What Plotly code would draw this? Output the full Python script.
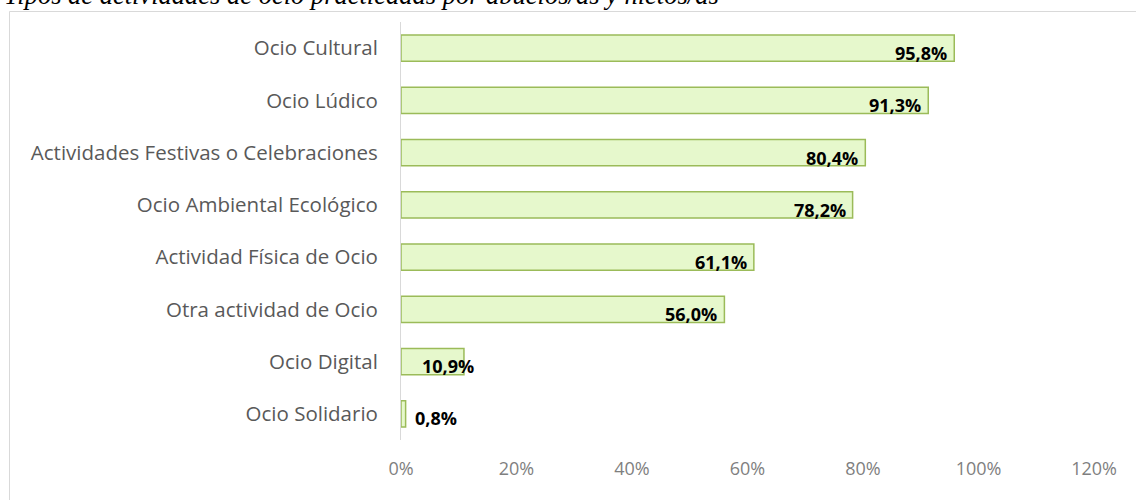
import plotly.graph_objects as go

categories = ["Ocio Cultural", "Ocio Lúdico", "Actividades Festivas o Celebraciones",
              "Ocio Ambiental Ecológico", "Actividad Física de Ocio", "Otra actividad de Ocio",
              "Ocio Digital", "Ocio Solidario"]
values = [0.958, 0.913, 0.804, 0.782, 0.611, 0.560, 0.109, 0.008]
tick_vals = [0, 0.2, 0.4, 0.6, 0.8, 1.0, 1.2]
tick_text = ["0%", "20%", "40%", "60%", "80%", "100%", "120%"]
title = "Tipos de actividades de ocio practicadas por abuelos/as y nietos/as"

W, H = 1136, 500
ML, MR, MT, MB = 401, 42, 22, 60
PW, PH = W - ML - MR, H - MT - MB

def px_x(p):
    return (p - ML) / PW

def px_y(p):
    return 1 - (p - MT) / PH

fig = go.Figure(go.Bar(
    x=values, y=categories, orientation="h",
    marker=dict(color="#e6f8cc", line=dict(color="#9bbb59", width=1.5)),
    hoverinfo="skip",
))

label_font = dict(family="Open Sans", size=18, color="#000000")
for c, v in zip(categories, values):
    lab = f"{v*100:.1f}%".replace(".", ",")
    if v > 0.3:
        fig.add_annotation(x=v, y=c, xref="x", yref="y", text=f"<b>{lab}</b>",
                           showarrow=False, xanchor="right", xshift=-5, yshift=-5,
                           font=label_font)
    else:
        shift = 19 if v > 0.05 else 12
        fig.add_annotation(x=0, y=c, xref="x", yref="y", text=f"<b>{lab}</b>",
                           showarrow=False, xanchor="left", xshift=shift, yshift=-4,
                           font=label_font)

fig.add_annotation(x=px_x(2), y=1, xref="paper", yref="paper", text=f"<i>{title}</i>",
                   showarrow=False, xanchor="left", yanchor="bottom", yshift=10,
                   font=dict(family="Liberation Serif", size=26.5, color="#000000"))

fig.add_shape(type="rect", xref="paper", yref="paper",
              x0=px_x(9.5), x1=px_x(1145), y0=px_y(520), y1=px_y(11.5),
              line=dict(color="#d9d9d9", width=1), fillcolor="rgba(0,0,0,0)", layer="below")

fig.update_layout(
    width=W, height=H,
    margin=dict(l=ML, r=MR, t=MT, b=MB),
    plot_bgcolor="white", paper_bgcolor="white",
    bargap=0.5, showlegend=False,
    xaxis=dict(range=[0, 1.2], tickvals=tick_vals, ticktext=tick_text,
               showgrid=False, zeroline=False, showline=False, ticks="",
               tickfont=dict(family="Open Sans", size=18, color="#7f7f7f"),
               ticklabelstandoff=16),
    yaxis=dict(categoryorder="array", categoryarray=categories, autorange="reversed",
               showgrid=False, zeroline=False, showline=True, linecolor="#d9d9d9", linewidth=1,
               ticks="", tickfont=dict(family="Open Sans", size=20.5, color="#595959"),
               ticklabelstandoff=18, automargin=False),
)

fig.write_html("out.html", config={"displayModeBar": False},
               post_script="document.body.style.margin='0px';document.body.style.overflow='hidden';")
